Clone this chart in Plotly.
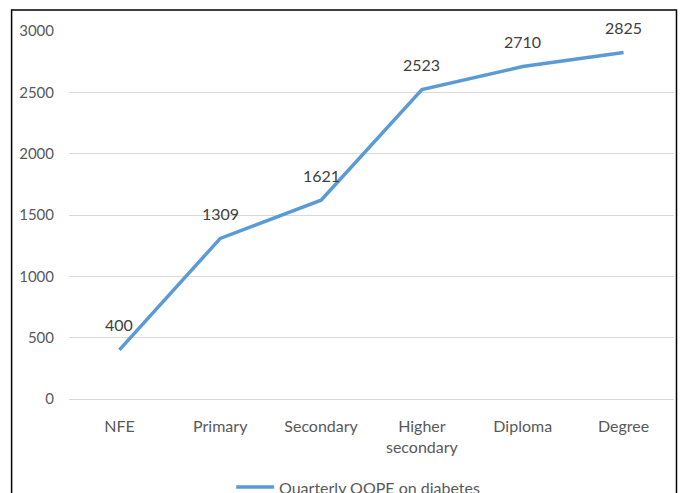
import plotly.graph_objects as go

categories = ["NFE", "Primary", "Secondary", "Higher<br>secondary", "Diploma", "Degree"]
values = [400, 1309, 1621, 2523, 2710, 2825]
series_name = "Quarterly OOPE on diabetes"
y_ticks = [0, 500, 1000, 1500, 2000, 2500, 3000]

FONT = "Lato, 'Liberation Sans', sans-serif"
GREY = "#595959"
LINE = "#5B9BD5"

fig = go.Figure()
fig.add_trace(go.Scatter(
    x=categories, y=values, mode="lines", name=series_name,
    line=dict(color=LINE, width=3.5), showlegend=False,
))

for c, v in zip(categories, values):
    fig.add_annotation(x=c, y=v, text=str(v), showarrow=False, yshift=25,
                       font=dict(family=FONT, size=16, color="#404040"))

L, R, T, B = 68.5, 6.5, 31, 94
W, H = 681, 493
pw, ph = W - L - R, H - T - B

def px_x(p):
    return (p - L) / pw

def px_y(p):
    return (H - B - p) / ph

fig.add_shape(type="rect", xref="paper", yref="paper",
              x0=px_x(11), x1=px_x(677), y0=px_y(520), y1=px_y(10),
              line=dict(color="black", width=1.5), fillcolor="rgba(0,0,0,0)", layer="below")

# legend (key line + label)
fig.add_shape(type="line", xref="paper", yref="paper",
              x0=px_x(236), x1=px_x(274), y0=px_y(487), y1=px_y(487),
              line=dict(color=LINE, width=3.5))
fig.add_annotation(xref="paper", yref="paper", x=px_x(277), y=px_y(487),
                   xanchor="left", yanchor="middle", text=series_name, showarrow=False,
                   font=dict(family=FONT, size=16, color=GREY))

fig.update_layout(
    width=W, height=H,
    margin=dict(l=L, r=R, t=T, b=B, autoexpand=False),
    paper_bgcolor="white", plot_bgcolor="white",
    font=dict(family=FONT, size=14, color=GREY),
    showlegend=False,
    xaxis=dict(type="category", showgrid=False, showline=False, ticks="",
               ticklabelstandoff=16, tickfont=dict(size=16, color=GREY),
               range=[-0.5, len(categories) - 0.5], fixedrange=True),
    yaxis=dict(range=[0, 3000], tickvals=y_ticks, showgrid=True, gridcolor="#D9D9D9",
               gridwidth=1, zeroline=True, zerolinecolor="#D9D9D9", zerolinewidth=1,
               showline=False, ticks="", ticklabelstandoff=14,
               tickfont=dict(size=15, color=GREY)),
)

fig.write_html("out.html")
